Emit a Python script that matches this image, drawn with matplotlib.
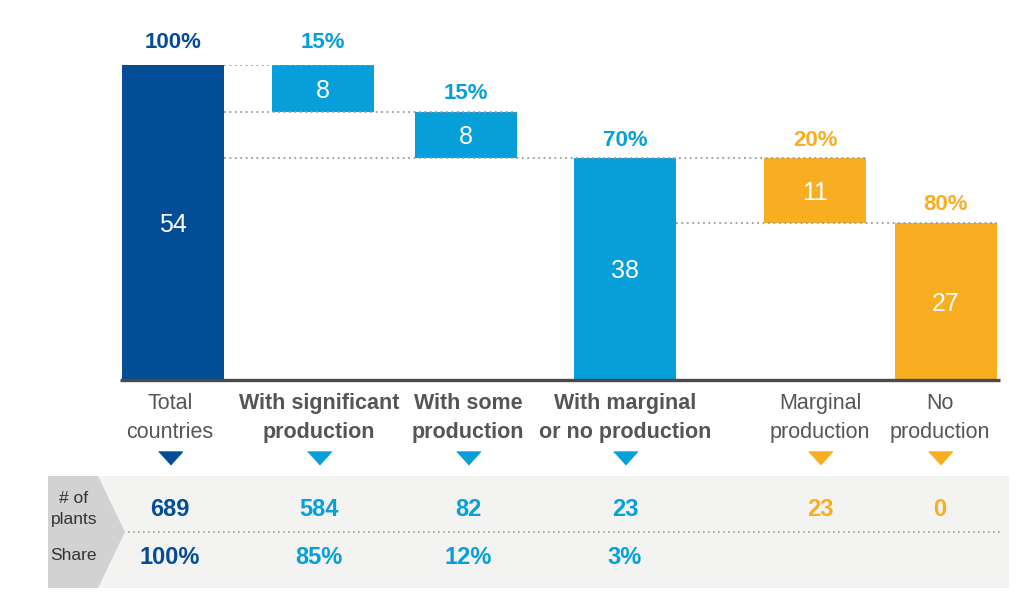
import numpy as np
from matplotlib import pyplot as plt
from matplotlib.patches import Polygon

plt.rcParams['font.family'] = ['Liberation Sans Narrow', 'Liberation Sans', 'DejaVu Sans']

# ---- data ----
categories = ["Total\ncountries", "With significant\nproduction", "With some\nproduction",
              "With marginal\nor no production", "Marginal\nproduction", "No\nproduction"]
bold_cat = [False, True, True, True, False, False]
countries = [54, 8, 8, 38, 11, 27]
kind = ["total", "step", "step", "total", "step", "total"]
pct_labels = ["100%", "15%", "15%", "70%", "20%", "80%"]
plants = ["689", "584", "82", "23", "23", "0"]
share = ["100%", "85%", "12%", "3%", "", ""]

DARK = "#034C96"
LIGHT = "#069FDA"
ORANGE = "#F8AE20"
colors = [DARK, LIGHT, LIGHT, LIGHT, ORANGE, ORANGE]
GREY_TXT = "#555555"

# layout (pixel positions on a 1024 wide canvas)
bar_x = [173, 323, 466, 625, 815, 946]
col_x = [170, 319, 468, 625, 820, 940]
bar_w = 102

# waterfall bottoms
bottoms = []
level = 0
for v, k in zip(countries, kind):
    if k == "total":
        bottoms.append(0)
        level = v
    else:
        level -= v
        bottoms.append(level)

fig = plt.figure(figsize=(10.24, 6.04), dpi=100)

# background overlay in pixel coordinates (table, triangles, labels)
bg = fig.add_axes([0, 0, 1, 1], zorder=0)
bg.set_xlim(0, 1024)
bg.set_ylim(604, 0)
bg.axis("off")

bg.add_patch(plt.Rectangle((48, 476), 961, 112, color="#F3F3F2", lw=0))
bg.add_patch(Polygon([(48, 476), (98, 476), (125, 532), (98, 588), (48, 588)],
                     closed=True, color="#D2D2D2", lw=0))
bg.plot([128, 1002], [532, 532], ls=(0, (1, 2)), color="#A0A0A0", lw=1.2)
bg.text(74, 509, "# of\nplants", ha="center", va="center", fontsize=12.5,
        color="#333333", linespacing=1.45)
bg.text(73, 556, "Share", ha="center", va="center", fontsize=12.5, color="#333333")

tri = [(-1, 0.55), (1, 0.55), (0, -0.55)]
for i in range(len(categories)):
    bg.text(col_x[i], 418, categories[i], ha="center", va="center", fontsize=15.5,
            color=GREY_TXT, fontweight="bold" if bold_cat[i] else "normal",
            linespacing=1.5)
    bg.plot(col_x[i], 458, marker=tri, markersize=17, color=colors[i], ls="none")
    bg.text(col_x[i], 509, plants[i], ha="center", va="center", fontsize=17,
            fontweight="bold", color=colors[i])
    if share[i]:
        bg.text(col_x[i], 557, share[i], ha="center", va="center", fontsize=17,
                fontweight="bold", color=colors[i])

# main waterfall axes: baseline at y=380 px, 54 at y=65 px
ax = fig.add_axes([0, 224 / 604, 1, 315 / 604], zorder=1)
ax.patch.set_alpha(0)
ax.set_xlim(0, 1024)
ax.set_ylim(0, 54)
ax.axis("off")

ax.bar(bar_x, countries, bottom=bottoms, width=bar_w, color=colors, zorder=2)

# dotted connectors
right = [x + bar_w / 2 for x in bar_x]
conn = [(54, right[0], right[1]), (46, right[0], right[2]),
        (38, right[0], right[4]), (27, right[3], right[5])]
for yv, x0, x1 in conn:
    ax.plot([x0, x1], [yv, yv], ls=(0, (1, 2)), color="#9A9A9A", lw=1.3, zorder=3)

ax.plot([120, 1000], [0, 0], color="#4A4A4A", lw=2.4, zorder=4, clip_on=False,
        solid_capstyle="butt")

for i in range(len(countries)):
    top = bottoms[i] + countries[i]
    off = 2.0 if top == 54 or i == 1 else 1.3
    ax.text(bar_x[i], top + off, pct_labels[i], ha="center", va="bottom", fontsize=16,
            fontweight="bold", color=colors[i], clip_on=False)
    ax.text(bar_x[i], bottoms[i] + countries[i] / 2 - 0.4, str(countries[i]), ha="center",
            va="center", fontsize=18, color="white", family=["Liberation Sans", "DejaVu Sans"])

fig.savefig("out.png", dpi=100)
